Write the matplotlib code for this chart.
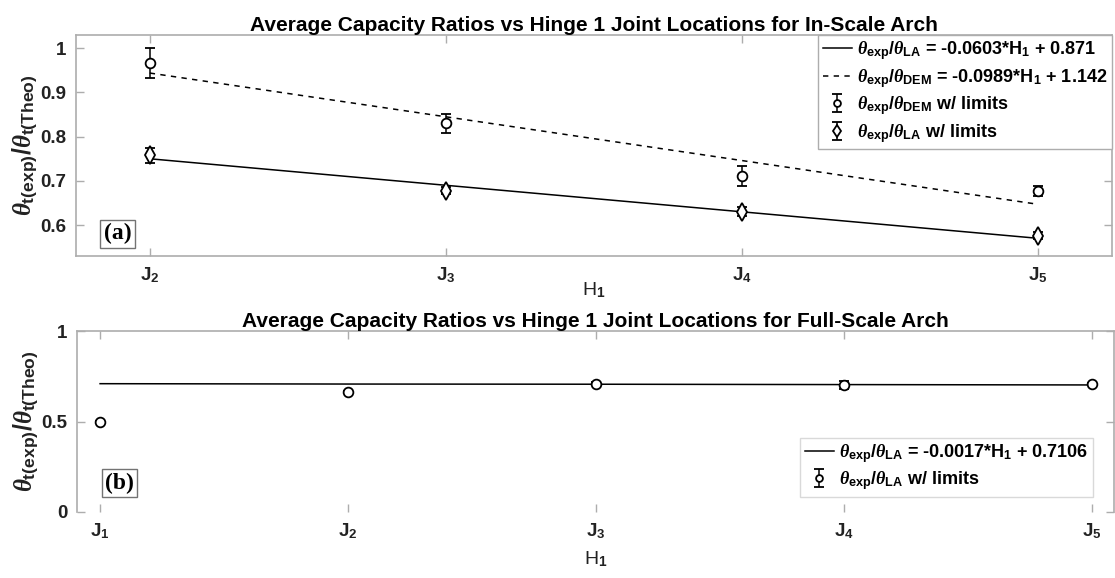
import numpy as np
import matplotlib
matplotlib.use('Agg')
import matplotlib.pyplot as plt

plt.rcParams['font.family'] = ['Liberation Sans', 'DejaVu Sans']
plt.rcParams['font.weight'] = 'bold'
plt.rcParams['mathtext.fontset'] = 'custom'
plt.rcParams['mathtext.rm'] = 'Liberation Sans:bold'
plt.rcParams['mathtext.bf'] = 'Liberation Sans:bold'
plt.rcParams['mathtext.it'] = 'Liberation Serif:italic'

# ---- (a) in-scale arch ----
h_a = [2, 3, 4, 5]
tick_a = ['J$_2$', 'J$_3$', 'J$_4$', 'J$_5$']
dem_a = [0.966, 0.830, 0.712, 0.676]
dem_lo_a = [0.932, 0.809, 0.689, 0.665]
dem_hi_a = [1.000, 0.851, 0.734, 0.688]
la_a = [0.759, 0.678, 0.630, 0.576]
la_lo_a = [0.741, 0.670, 0.620, 0.568]
la_hi_a = [0.774, 0.686, 0.640, 0.584]
fit_la_a = [0.750, 0.690, 0.630, 0.570]
fit_dem_a = [0.944, 0.845, 0.746, 0.647]

# ---- (b) full-scale arch ----
h_b = [1, 2, 3, 4, 5]
tick_b = ['J$_1$', 'J$_2$', 'J$_3$', 'J$_4$', 'J$_5$']
la_b = [0.500, 0.665, 0.709, 0.703, 0.709]
la_lo_b = [0.498, 0.660, 0.699, 0.681, 0.703]
la_hi_b = [0.502, 0.670, 0.719, 0.725, 0.715]
fit_la_b = [0.709, 0.707, 0.706, 0.704, 0.702]

ylab = r'$\theta_{\mathrm{t(exp)}}/\theta_{\mathrm{t(Theo)}}$'
lab_la = r'$\theta_{\mathrm{exp}}/\theta_{\mathrm{LA}}$'
lab_dem = r'$\theta_{\mathrm{exp}}/\theta_{\mathrm{DEM}}$'

axcol = '0.68'

fig = plt.figure(figsize=(11.15, 5.78), dpi=100)
ax1 = fig.add_axes([0.0679, 0.5571, 0.9294, 0.3823])
ax2 = fig.add_axes([0.0691, 0.1142, 0.9300, 0.3131])


def style(ax, xpad):
    for s in ax.spines.values():
        s.set_color(axcol)
        s.set_linewidth(1.2)
    ax.tick_params(direction='in', length=6, width=1, color=axcol,
                   labelsize=13.5, labelcolor='#222222', top=True, right=True, pad=7)
    ax.set_xlabel('H$_1$', fontsize=14, labelpad=xpad, color='#222222')
    ax.set_ylabel(ylab, fontsize=18, color='#222222', labelpad=0)


def errbar(ax, x, y, lo, hi, marker, ms, label):
    y = np.array(y)
    err = [y - np.array(lo), np.array(hi) - y]
    ax.errorbar(x, y, yerr=err, fmt=marker, color='black', mfc='white', mec='black',
                ms=ms, mew=1.3, elinewidth=1.1, capsize=3.5, capthick=1.1, label=label,
                zorder=3)


# top panel
ax1.plot(h_a, fit_la_a, '-', color='black', lw=1.1,
         label=lab_la + ' = -0.0603*H$_1$ + 0.871')
ax1.plot(h_a, fit_dem_a, '--', color='black', lw=1.1, dashes=(3.5, 3.5),
         label=lab_dem + ' = -0.0989*H$_1$ + 1.142')
errbar(ax1, h_a, dem_a, dem_lo_a, dem_hi_a, 'o', 7, lab_dem + ' w/ limits')
errbar(ax1, h_a, la_a, la_lo_a, la_hi_a, 'd', 9, lab_la + ' w/ limits')
ax1.set_xlim(1.75, 5.25)
ax1.set_ylim(0.53, 1.03)
ax1.set_xticks(h_a)
ax1.set_xticklabels(tick_a)
ax1.set_yticks([0.6, 0.7, 0.8, 0.9, 1.0])
ax1.set_yticklabels(['0.6', '0.7', '0.8', '0.9', '1'])
style(ax1, -4)
ax1.set_title('Average Capacity Ratios vs Hinge 1 Joint Locations for In-Scale Arch',
              fontsize=15, fontweight='bold', pad=3)
ax1.legend(loc='upper right', bbox_to_anchor=(1.0, 1.0), borderaxespad=0,
           fontsize=13, fancybox=False, framealpha=1, edgecolor=axcol,
           handlelength=1.6, handletextpad=0.3, labelspacing=0.25,
           borderpad=0.25, markerscale=0.7)
ax1.text(0.027, 0.10, '(a)', transform=ax1.transAxes, fontsize=17, fontweight='bold',
         family='Liberation Serif', ha='left', va='center',
         bbox=dict(boxstyle='square,pad=0.15', fc='white', ec='0.45', lw=1))

# bottom panel
ax2.plot(h_b, fit_la_b, '-', color='black', lw=1.1,
         label=lab_la + ' = -0.0017*H$_1$ + 0.7106')
errbar(ax2, h_b, la_b, la_lo_b, la_hi_b, 'o', 7, lab_la + ' w/ limits')
ax2.set_xlim(0.907, 5.09)
ax2.set_ylim(0, 1)
ax2.set_xticks(h_b)
ax2.set_xticklabels(tick_b)
ax2.set_yticks([0, 0.5, 1])
ax2.set_yticklabels(['0', '0.5', '1'])
style(ax2, 6)
ax2.spines['bottom'].set_visible(False)
ax2.set_title('Average Capacity Ratios vs Hinge 1 Joint Locations for Full-Scale Arch',
              fontsize=15, fontweight='bold', pad=3)
ax2.legend(loc='lower right', bbox_to_anchor=(0.9797, 0.083), borderaxespad=0,
           fontsize=13, fancybox=False, framealpha=1, edgecolor='0.85',
           handlelength=1.6, handletextpad=0.3, labelspacing=0.25, borderpad=0.25,
           markerscale=0.7)
ax2.text(0.027, 0.16, '(b)', transform=ax2.transAxes, fontsize=17, fontweight='bold',
         family='Liberation Serif', ha='left', va='center',
         bbox=dict(boxstyle='square,pad=0.15', fc='white', ec='0.45', lw=1))

fig.savefig('out.png', dpi=100)
